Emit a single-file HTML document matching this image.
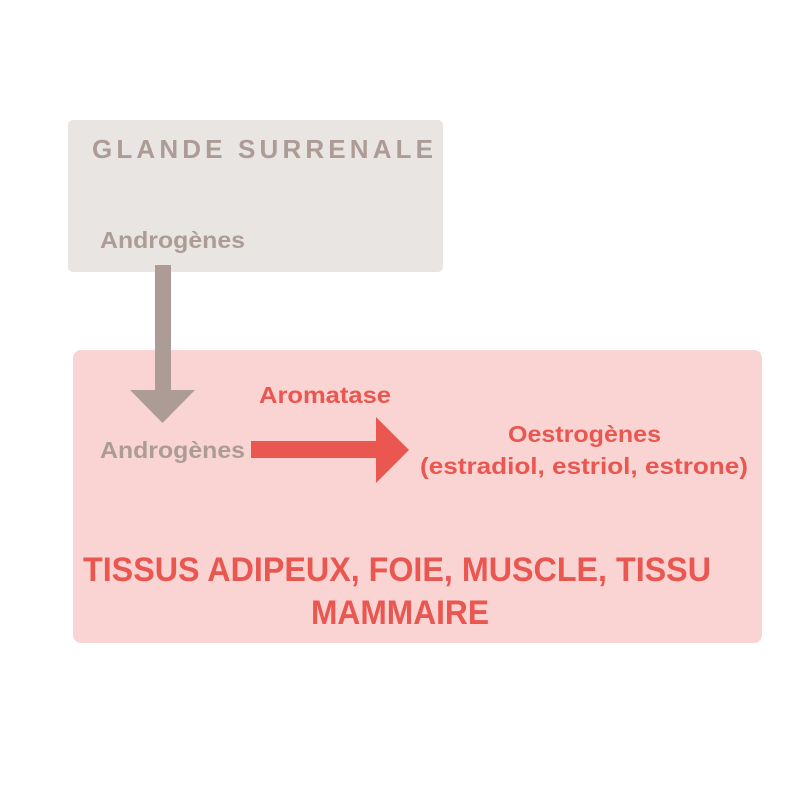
<!DOCTYPE html>
<html><head><meta charset="utf-8"><style>html,body{margin:0;padding:0;background:#fff}</style></head><body>
<svg width="800" height="800" xmlns="http://www.w3.org/2000/svg" font-family="Liberation Sans, sans-serif" font-weight="bold">
<rect x="68" y="120" width="375" height="152" rx="5" fill="#e9e5e2"/>
<rect x="73" y="350" width="689" height="293" rx="8" fill="#f9d4d3"/>
<rect x="155" y="265" width="16" height="126" fill="#ad9c96"/>
<polygon points="130,390 195,390 162.5,423" fill="#ad9c96"/>
<rect x="251" y="441" width="126" height="17" fill="#ea5650"/>
<polygon points="376,417 409,450 376,483" fill="#ea5650"/>
<g fill="#ad9c96">
<text x="92" y="158" font-size="26" textLength="341" lengthAdjust="spacing">GLANDE SURRENALE</text>
<text x="100" y="248" font-size="23" textLength="145" lengthAdjust="spacingAndGlyphs">Androgènes</text>
<text x="100" y="458" font-size="23" textLength="145" lengthAdjust="spacingAndGlyphs">Androgènes</text>
</g>
<g fill="#ea5650">
<text x="259" y="403" font-size="23" textLength="132" lengthAdjust="spacingAndGlyphs">Aromatase</text>
<text x="508" y="442" font-size="23" textLength="153" lengthAdjust="spacingAndGlyphs">Oestrogènes</text>
<text x="420" y="474" font-size="23" textLength="328" lengthAdjust="spacingAndGlyphs">(estradiol, estriol, estrone)</text>
<text x="83" y="581" font-size="34" textLength="628" lengthAdjust="spacingAndGlyphs">TISSUS ADIPEUX, FOIE, MUSCLE, TISSU</text>
<text x="311" y="624" font-size="34" textLength="178" lengthAdjust="spacingAndGlyphs">MAMMAIRE</text>
</g>
</svg>
</body></html>
